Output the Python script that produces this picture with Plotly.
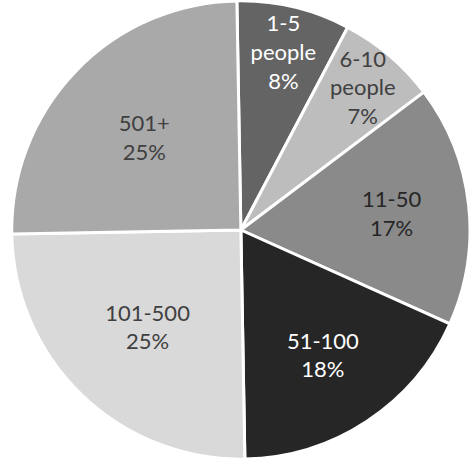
import plotly.graph_objects as go

categories = ["1-5<br>people", "6-10<br>people", "11-50", "51-100", "101-500", "501+"]
values = [8, 7, 17, 18, 25, 25]
slice_colors = ["#646464", "#bdbdbd", "#8a8a8a", "#262626", "#d9d9d9", "#a9a9a9"]
text_colors = ["#ffffff", "#404040", "#262626", "#ffffff", "#404040", "#404040"]

fig = go.Figure(go.Pie(
    labels=categories,
    values=values,
    sort=False,
    direction="clockwise",
    rotation=-1,
    marker=dict(colors=slice_colors, line=dict(color="#ffffff", width=3)),
    texttemplate="%{label}<br>%{percent:.0%}",
    textposition="inside",
    insidetextorientation="horizontal",
    textfont=dict(family="Lato, Open Sans, sans-serif", size=22, color=text_colors),
    showlegend=False,
    hoverinfo="none",
    domain=dict(x=[0.025, 1.0], y=[0.0, 1.0]),
))

fig.update_layout(
    width=470,
    height=460,
    margin=dict(l=0, r=0, t=0, b=0),
    paper_bgcolor="#ffffff",
    plot_bgcolor="#ffffff",
    uniformtext=dict(minsize=22, mode="show"),
)

fig.write_html("out.html")
